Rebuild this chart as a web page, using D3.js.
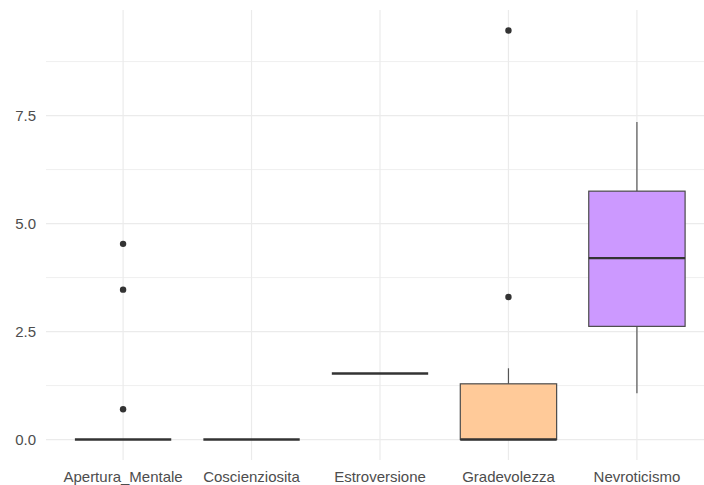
<!DOCTYPE html>
<html>
<head>
<meta charset="utf-8">
<script src="https://cdn.jsdelivr.net/npm/d3@7"></script>
<style>
  html, body { margin: 0; padding: 0; background: #fff; }
  svg { display: block; }
  text { font-family: "Liberation Sans", Arial, sans-serif; }
</style>
</head>
<body>
<svg id="chart" width="704" height="485"></svg>
<script>
// Big Five trait scores: five-number summaries per trait
const traits    = ["Apertura_Mentale", "Coscienziosita", "Estroversione", "Gradevolezza", "Nevroticismo"];
const whiskerLo = [0, 0, 1.53, 0, 1.07];
const q1        = [0, 0, 1.53, 0, 2.62];
const median    = [0, 0, 1.53, 0, 4.20];
const q3        = [0, 0, 1.53, 1.29, 5.75];
const whiskerHi = [0, 0, 1.53, 1.65, 7.35];
const outliers  = [[0.70, 3.47, 4.53], [], [], [3.30, 9.47], []];
const fills     = ["#F8766D", "#A3A500", "#00BF7D", "#FFCA99", "#CC99FF"];
const yTicks    = [0, 2.5, 5, 7.5];
const yMinor    = [1.25, 3.75, 6.25, 8.75];

const svg = d3.select("#chart");
const panel = { left: 46, right: 714, top: 10, bottom: 460 };

// discrete x positions with 0.6-unit expansion on each side
const x = d3.scalePoint()
  .domain(traits)
  .range([panel.left, panel.right])
  .padding(0.6);
const step = x.step();

const allVals = [].concat(whiskerLo, whiskerHi, ...outliers);
const yMax = d3.max(allVals), yMin = d3.min(allVals);
const pad = (yMax - yMin) * 0.05;
const y = d3.scaleLinear().domain([yMin - pad, yMax + pad]).range([panel.bottom, panel.top]);

const grid = svg.append("g");
grid.selectAll("line.minor").data(yMinor).join("line")
  .attr("x1", panel.left).attr("x2", panel.right)
  .attr("y1", d => y(d)).attr("y2", d => y(d))
  .attr("stroke", "#ebebeb").attr("stroke-width", 0.8);
grid.selectAll("line.major").data(yTicks).join("line")
  .attr("x1", panel.left).attr("x2", panel.right)
  .attr("y1", d => y(d)).attr("y2", d => y(d))
  .attr("stroke", "#ebebeb").attr("stroke-width", 1.2);
grid.selectAll("line.vx").data(traits).join("line")
  .attr("x1", d => x(d)).attr("x2", d => x(d))
  .attr("y1", panel.top).attr("y2", panel.bottom)
  .attr("stroke", "#ebebeb").attr("stroke-width", 1.2);

// Y axis labels
const yAxis = d3.axisLeft(y).tickValues(yTicks).tickFormat(d3.format(".1f")).tickSize(0).tickPadding(10);
svg.append("g").attr("transform", `translate(${panel.left},0)`).call(yAxis)
  .call(g => g.select(".domain").remove())
  .call(g => g.selectAll("text").attr("fill", "#4d4d4d").attr("font-size", 15)
    .attr("font-family", "Liberation Sans, Arial, sans-serif"));

// X axis labels
svg.append("g").selectAll("text").data(traits).join("text")
  .attr("x", d => x(d)).attr("y", 482)
  .attr("text-anchor", "middle")
  .attr("fill", "#4d4d4d").attr("font-size", 15)
  .text(d => d);

const boxW = step * 0.75;
const boxes = svg.append("g").selectAll("g").data(traits).join("g");

// whiskers
boxes.append("line")
  .attr("x1", d => x(d)).attr("x2", d => x(d))
  .attr("y1", (d, i) => y(q3[i])).attr("y2", (d, i) => y(whiskerHi[i]))
  .attr("stroke", "#555").attr("stroke-width", 1.2);
boxes.append("line")
  .attr("x1", d => x(d)).attr("x2", d => x(d))
  .attr("y1", (d, i) => y(q1[i])).attr("y2", (d, i) => y(whiskerLo[i]))
  .attr("stroke", "#555").attr("stroke-width", 1.2);

// boxes
boxes.append("rect")
  .attr("x", d => x(d) - boxW / 2).attr("width", boxW)
  .attr("y", (d, i) => y(q3[i])).attr("height", (d, i) => y(q1[i]) - y(q3[i]))
  .attr("fill", (d, i) => fills[i])
  .attr("stroke", "#4a4a4a").attr("stroke-width", 1.2);

// medians
boxes.append("line")
  .attr("x1", d => x(d) - boxW / 2).attr("x2", d => x(d) + boxW / 2)
  .attr("y1", (d, i) => y(median[i])).attr("y2", (d, i) => y(median[i]))
  .attr("stroke", "#333").attr("stroke-width", 2.4);

// outliers
boxes.each(function (d, i) {
  d3.select(this).selectAll("circle").data(outliers[i]).join("circle")
    .attr("cx", x(d)).attr("cy", v => y(v)).attr("r", 3.2)
    .attr("fill", "#333");
});
</script>
</body>
</html>
